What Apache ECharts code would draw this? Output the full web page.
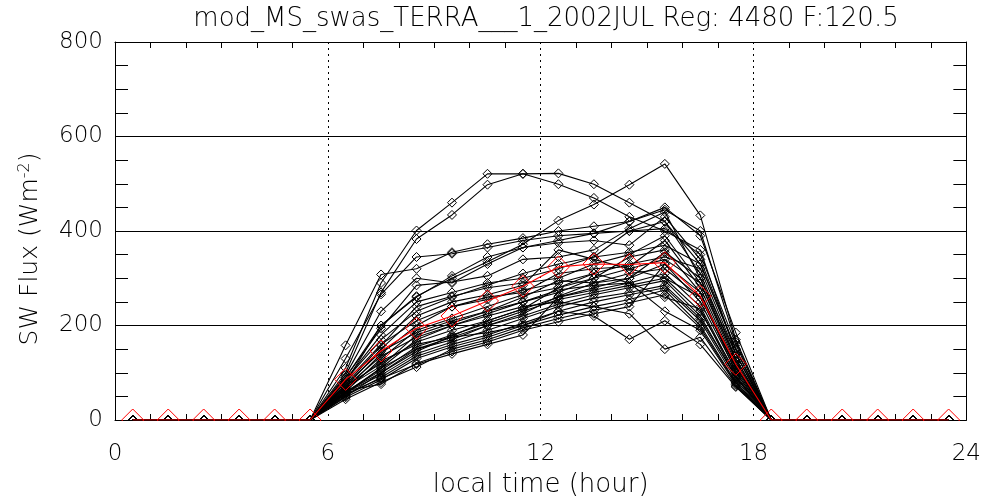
<!DOCTYPE html>
<html>
<head>
<meta charset="utf-8">
<script src="https://cdn.jsdelivr.net/npm/echarts@6/dist/echarts.min.js"></script>
<style>
  html, body { margin: 0; padding: 0; background: #fff; }
  #chart { width: 984px; height: 503px; }
</style>
</head>
<body>
<div id="chart"></div>
<script>
// Hourly local time bins (hour centres)
const hours = [0.5, 1.5, 2.5, 3.5, 4.5, 5.5, 6.5, 7.5, 8.5, 9.5, 10.5, 11.5,
               12.5, 13.5, 14.5, 15.5, 16.5, 17.5, 18.5, 19.5, 20.5, 21.5, 22.5, 23.5];

// Daily SW flux curves (W m^-2), one array per day of the month
const day01 = [0,0,0,0,0,0, 110,290,401,460,521,521,522,499,460,420,330,150, 0,0,0,0,0,0];
const day02 = [0,0,0,0,0,0, 100,270,383,434,498,521,499,470,430,400,360,140, 0,0,0,0,0,0];
const day03 = [0,0,0,0,0,0,  80,200,262,300,335,372,422,456,498,542,433,170, 0,0,0,0,0,0];
const day04 = [0,0,0,0,0,0, 158,308,320,355,372,385,400,410,420,450,390,185, 0,0,0,0,0,0];
const day05 = [0,0,0,0,0,0, 130,266,345,352,365,380,390,395,400,405,350,160, 0,0,0,0,0,0];
const day06 = [0,0,0,0,0,0,  95,230,300,290,330,365,375,380,370,430,340,150, 0,0,0,0,0,0];
const day07 = [0,0,0,0,0,0,  90,194,285,292,305,340,345,360,405,440,300,140, 0,0,0,0,0,0];
const day08 = [0,0,0,0,0,0,  85,180,250,270,290,300,320,345,400,420,310,130, 0,0,0,0,0,0];
const day09 = [0,0,0,0,0,0,  75,157,240,262,280,290,300,330,350,390,290,120, 0,0,0,0,0,0];
const day10 = [0,0,0,0,0,0,  70,150,220,250,265,285,360,340,320,300,260,110, 0,0,0,0,0,0];
const day11 = [0,0,0,0,0,0,  65,140,200,240,260,270,310,320,325,380,280,115, 0,0,0,0,0,0];
const day12 = [0,0,0,0,0,0,  60,130,190,215,240,265,280,300,345,360,270,100, 0,0,0,0,0,0];
const day13 = [0,0,0,0,0,0,  68,114,180,205,230,260,295,290,300,330,250,105, 0,0,0,0,0,0];
const day14 = [0,0,0,0,0,0,  55,110,170,200,225,250,275,285,290,310,240, 95, 0,0,0,0,0,0];
const day15 = [0,0,0,0,0,0,  72,120,165,190,210,235,260,280,300,355,300,125, 0,0,0,0,0,0];
const day16 = [0,0,0,0,0,0,  60,105,155,180,205,230,255,270,285,300,230,100, 0,0,0,0,0,0];
const day17 = [0,0,0,0,0,0,  50,100,150,170,200,220,245,265,280,295,220, 90, 0,0,0,0,0,0];
const day18 = [0,0,0,0,0,0,  58, 95,140,165,190,215,240,258,270,285,215, 92, 0,0,0,0,0,0];
const day19 = [0,0,0,0,0,0,  52, 90,135,160,180,205,230,250,265,280,210, 85, 0,0,0,0,0,0];
const day20 = [0,0,0,0,0,0,  48, 85,130,155,175,200,222,240,255,275,200, 80, 0,0,0,0,0,0];
const day21 = [0,0,0,0,0,0,  44, 80,112,150,170,195,215,232,248,265,195, 78, 0,0,0,0,0,0];
const day22 = [0,0,0,0,0,0,  62, 76,120,145,165,190,208,225,240,330,270,110, 0,0,0,0,0,0];
const day23 = [0,0,0,0,0,0,  55, 88,118,140,160,180,260,275,290,230,190, 75, 0,0,0,0,0,0];
const day24 = [0,0,0,0,0,0,  65,125,160,175,185,200,230,220,171,210,160, 70, 0,0,0,0,0,0];
const day25 = [0,0,0,0,0,0,  70,135,175,200,220,240,250,240,225,150,175, 72, 0,0,0,0,0,0];
const day26 = [0,0,0,0,0,0,  75,145,185,210,230,250,270,300,320,340,290,130, 0,0,0,0,0,0];
const day27 = [0,0,0,0,0,0,  58,110,150,175,200,225,262,290,310,320,260,115, 0,0,0,0,0,0];
const day28 = [0,0,0,0,0,0,  80,160,210,240,255,275,290,310,330,345,320,140, 0,0,0,0,0,0];
const day29 = [0,0,0,0,0,0,  85,170,230,260,285,310,330,345,355,370,330,150, 0,0,0,0,0,0];
const day30 = [0,0,0,0,0,0,  60,100,145,178,210,235,280,310,290,260,235, 90, 0,0,0,0,0,0];
const day31 = [0,0,0,0,0,0,  90,200,260,305,345,365,380,395,420,445,400,165, 0,0,0,0,0,0];

const days = [day01, day02, day03, day04, day05, day06, day07, day08, day09, day10,
              day11, day12, day13, day14, day15, day16, day17, day18, day19, day20,
              day21, day22, day23, day24, day25, day26, day27, day28, day29, day30, day31];

// Monthly mean diurnal cycle
const meanFlux = [0,0,0,0,0,0, 86,146,194,220,252,283,324,330,329,333,262,118, 0,0,0,0,0,0];

// Axis settings
const xTicks = [0, 6, 12, 18, 24];
const yTicks = [0, 200, 400, 600, 800];

const titleText = 'mod_MS_swas_TERRA___1_2002JUL Reg: 4480 F:120.5';
const FONT = 'DejaVu Sans';

const chart = echarts.init(document.getElementById('chart'), null, { renderer: 'canvas' });

const pairs = arr => hours.map((h, i) => [h, arr[i]]);

const series = days.map((d, k) => ({
  name: 'day' + (k + 1),
  type: 'line',
  data: pairs(d),
  symbol: 'diamond',
  symbolSize: 9,
  lineStyle: { color: '#000', width: 1.1 },
  itemStyle: { color: 'rgba(0,0,0,0)', borderColor: '#000', borderWidth: 1 },
  emphasis: { disabled: true },
  silent: true,
  z: 2
}));

series.push({
  name: 'mean',
  type: 'line',
  data: pairs(meanFlux),
  symbol: 'diamond',
  symbolSize: 22,
  lineStyle: { color: '#ff0000', width: 1.1 },
  itemStyle: { color: 'rgba(0,0,0,0)', borderColor: '#ff0000', borderWidth: 1 },
  emphasis: { disabled: true },
  silent: true,
  z: 3
});

const black = '#000';
const frameLine = { show: true, onZero: false, lineStyle: { color: black, width: 1 } };

const option = {
  animation: false,
  backgroundColor: '#fff',
  title: {
    text: titleText,
    left: 541,
    textAlign: 'center',
    top: 1,
    textStyle: { fontFamily: FONT, fontSize: 26, fontWeight: 300, color: black }
  },
  grid: { left: 115, right: 16, top: 42, bottom: 82, containLabel: false },
  xAxis: [
    {
      type: 'value', position: 'bottom',
      min: xTicks[0], max: xTicks[xTicks.length - 1], interval: 6,
      name: 'local time (hour)', nameLocation: 'middle', nameGap: 52,
      nameTextStyle: { fontFamily: FONT, fontSize: 26, fontWeight: 300, color: black },
      axisLine: frameLine,
      axisTick: { show: false, inside: true },
      minorTick: { show: true, splitNumber: 6, length: 6, lineStyle: { color: black, width: 1 } },
      axisLabel: { fontFamily: FONT, fontSize: 23, fontWeight: 300, color: black, margin: 23 },
      splitLine: { show: true, lineStyle: { color: black, width: 1, type: [2, 4] } },
      minorSplitLine: { show: false }
    },
    {
      type: 'value', position: 'top',
      min: xTicks[0], max: xTicks[xTicks.length - 1], interval: 6,
      axisLine: frameLine,
      axisTick: { show: false, inside: true },
      minorTick: { show: true, splitNumber: 6, length: 6, lineStyle: { color: black, width: 1 } },
      axisLabel: { show: false },
      splitLine: { show: false }
    }
  ],
  yAxis: [
    {
      type: 'value', position: 'left',
      min: yTicks[0], max: yTicks[yTicks.length - 1], interval: 200,
      name: 'SW Flux (Wm{sup|-2})', nameLocation: 'middle', nameGap: 72,
      nameTextStyle: {
        fontFamily: FONT, fontSize: 25, fontWeight: 300, color: black,
        padding: [0, 36, 0, 0],
        rich: { sup: { fontFamily: FONT, fontSize: 16, fontWeight: 300, color: black, verticalAlign: 'top', padding: [0, 0, 10, 0] } }
      },
      axisLine: frameLine,
      axisTick: { show: false, inside: true },
      minorTick: { show: true, splitNumber: 4, length: 13, lineStyle: { color: black, width: 1 } },
      axisLabel: { fontFamily: FONT, fontSize: 23, fontWeight: 300, color: black, margin: 12 },
      splitLine: { show: true, lineStyle: { color: black, width: 1 } },
      minorSplitLine: { show: false }
    },
    {
      type: 'value', position: 'right',
      min: yTicks[0], max: yTicks[yTicks.length - 1], interval: 200,
      axisLine: frameLine,
      axisTick: { show: false, inside: true },
      minorTick: { show: true, splitNumber: 4, length: 13, lineStyle: { color: black, width: 1 } },
      axisLabel: { show: false },
      splitLine: { show: false }
    }
  ],
  series: series
};

chart.setOption(option);

// Markers on the zero line are cut at the bottom frame of the plot
const p0 = chart.convertToPixel({ gridIndex: 0 }, [xTicks[0], yTicks[0]]);
const p1 = chart.convertToPixel({ gridIndex: 0 }, [xTicks[xTicks.length - 1], yTicks[0]]);
chart.setOption({
  graphic: [{
    type: 'rect',
    z: 100,
    silent: true,
    shape: { x: p0[0] + 1, y: Math.round(p0[1]) + 1, width: p1[0] - p0[0] - 2, height: 14 },
    style: { fill: '#fff' }
  }]
});
</script>
</body>
</html>
